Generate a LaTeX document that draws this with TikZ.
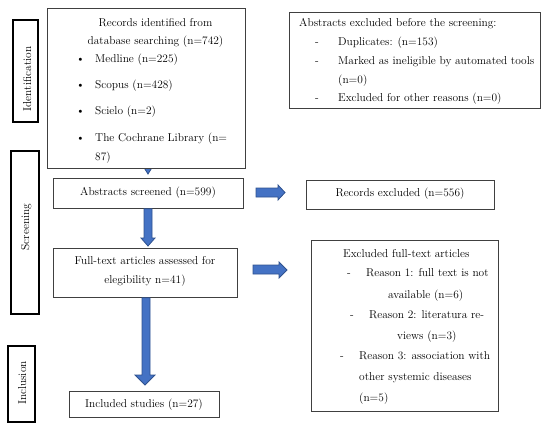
\documentclass[tikz,border=0pt]{standalone}
\definecolor{ablue}{HTML}{4472C4}
\definecolor{aedge}{HTML}{2F528F}
\definecolor{boxline}{HTML}{404040}
\begin{document}
\begin{tikzpicture}[x=1pt,y=-1pt,
  box/.style={draw=boxline, line width=0.8pt, fill=white, inner sep=0pt, anchor=north west},
  side/.style={draw=black, line width=1.8pt, inner sep=0pt, anchor=north west},
  tl/.style={inner sep=0pt, anchor=mid west, font=\fontsize{11.4}{13}\selectfont},
  tc/.style={inner sep=0pt, anchor=mid, font=\fontsize{11.4}{13}\selectfont},
  rl/.style={inner sep=0pt, anchor=mid, rotate=90, font=\fontsize{11.4}{13}\selectfont},
  barrow/.style={fill=ablue, draw=aedge, line width=0.8pt, line join=miter}]
\useasboundingbox (0,0) rectangle (550,426);

% side phase boxes
\node[side, minimum width=25pt, minimum height=102pt] (idbox) at (12,19) {};
\node[rl] (idlab) at (29,79) {Identification};
\node[side, minimum width=28pt, minimum height=163pt] (scbox) at (10,150) {};
\node[rl] (sclab) at (27,227) {Screening};
\node[side, minimum width=27pt, minimum height=76pt] (inbox) at (7,345) {};
\node[rl] (inlab) at (24,383) {Inclusion};

% hidden arrow tip under the records box
\path[barrow] (143,166) -- (153,166) -- (148,174) -- cycle;

% records box
\node[box, minimum width=198pt, minimum height=160pt] (rec) at (47,8) {};
\node[tc] (rec1) at (155.5,24) {Records identified from};
\node[tc] (rec2) at (155.5,42) {database searching (n=742)};
\node[tl] (b1) at (76,60) {\textbullet};
\node[tl] (rec3) at (95,60) {Medline (n=225)};
\node[tl] (b2) at (76,86) {\textbullet};
\node[tl] (rec4) at (95,86) {Scopus (n=428)};
\node[tl] (b3) at (76,112) {\textbullet};
\node[tl] (rec5) at (95,112) {Scielo (n=2)};
\node[tl] (b4) at (76,139) {\textbullet};
\node[tl] (rec6) at (95,139) {The Cochrane Library (n=};
\node[tl] (rec7) at (95,158) {87)};

% abstracts excluded before screening
\node[box, minimum width=251pt, minimum height=96pt] (pre) at (289,12) {};
\node[tl] (pre1) at (299,24) {Abstracts excluded before the screening:};
\node[tl] (d1) at (315,43) {-};
\node[tl] (pre2) at (338,43) {Duplicates: (n=153)};
\node[tl] (d2) at (315,62) {-};
\node[tl] (pre3) at (338,62) {Marked as ineligible by automated tools};
\node[tl] (pre4) at (338,81) {(n=0)};
\node[tl] (d3) at (315,99) {-};
\node[tl] (pre5) at (338,99) {Excluded for other reasons (n=0)};

% abstracts screened
\node[box, minimum width=190pt, minimum height=30pt] (scr) at (53,178) {};
\node[tc] (scrt) at (148,193) {Abstracts screened (n=599)};

% records excluded
\node[box, minimum width=188pt, minimum height=29pt] (rex) at (306,180) {};
\node[tc] (rext) at (400,194) {Records excluded (n=556)};

% full text
\node[box, minimum width=184pt, minimum height=49pt] (ft) at (53,248) {};
\node[tc] (ft1) at (145,262) {Full-text articles assessed for};
\node[tc] (ft2) at (145,281) {elegibility n=41)};

% excluded full text
\node[box, minimum width=187pt, minimum height=171pt] (fex) at (311,240) {};
\node[tl] (fex1) at (343,255) {Excluded full-text articles};
\node[tl] (e1) at (347,274) {-};
\node[tl] (fex2) at (366,274) {Reason 1: full text is not};
\node[tl] (fex3) at (388,296) {available (n=6)};
\node[tl] (e2) at (350,316) {-};
\node[tl] (fex4) at (369,316) {Reason 2: literatura re-};
\node[tl] (fex5) at (397,337) {views (n=3)};
\node[tl] (e3) at (340,357) {-};
\node[tl] (fex6) at (359,357) {Reason 3: association with};
\node[tl] (fex7) at (359,378) {other systemic diseases};
\node[tl] (fex8) at (359,399) {(n=5)};

% included
\node[box, minimum width=150pt, minimum height=26pt] (inc) at (69,391) {};
\node[tc] (inct) at (144,405) {Included studies (n=27)};

% block arrows
\path[barrow] (scr.south -| 144,0) -- (144,238) -- (141,238) -- (148,246) -- (155,238) -- (152,238) -- (scr.south -| 152,0) -- cycle;
\path[barrow] (ft.south -| 142,0) -- (142,375) -- (135,375) -- (145,385) -- (155,375) -- (150,375) -- (ft.south -| 150,0) -- cycle;
\path[barrow] (256,188) -- (278,188) -- (278,185) -- (285,192.5) -- (278,200) -- (278,197) -- (256,197) -- cycle;
\path[barrow] (253,265) -- (279,265) -- (279,262) -- (287,270) -- (279,278) -- (279,274) -- (253,274) -- cycle;
\end{tikzpicture}
\end{document}
